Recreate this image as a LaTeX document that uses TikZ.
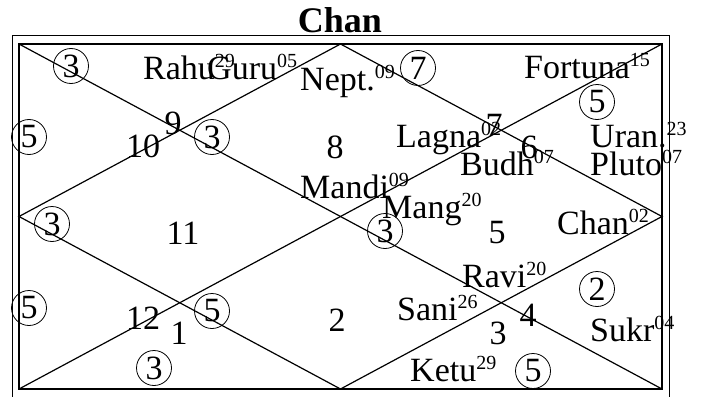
\documentclass[tikz,border=0pt]{standalone}
\usepackage{fontspec}
\setmainfont{Liberation Serif}
\newcommand\bigf{\fontsize{34}{38}\selectfont}
\newcommand\sps[1]{\raisebox{12pt}{\fontsize{20}{20}\selectfont #1}}
\tikzset{
  chartline/.style={line width=1.2pt},
  frameline/.style={line width=1pt},
  planet/.style={anchor=base west, inner sep=0pt, font=\bigf},
  housenum/.style={anchor=base, inner sep=0pt, font=\bigf},
  ring/.style={circle, draw, line width=0.8pt, minimum size=35pt, inner sep=0pt, font=\bigf}
}
\begin{document}
\begin{tikzpicture}[x=1pt,y=-1pt]
\useasboundingbox (0,0) rectangle (701,396);
% title
\node[anchor=base, inner sep=0pt, font=\fontsize{36}{40}\selectfont\bfseries] (title) at (340,33) {Chan};
% outer frame
\coordinate (o1) at (12,397);
\coordinate (o2) at (12,36);
\coordinate (o3) at (669,36);
\coordinate (o4) at (669,397);
\draw[frameline] (o1) -- (o2) -- (o3) -- (o4);
% inner chart
\coordinate (tl) at (19,44);
\coordinate (tr) at (662,44);
\coordinate (br) at (662,389);
\coordinate (bl) at (19,389);
\coordinate (tm) at (340.5,44);
\coordinate (rm) at (662,216.5);
\coordinate (bm) at (340.5,389);
\coordinate (lm) at (19,216.5);
\draw[chartline] (tl) -- (tr) -- (br) -- (bl) -- cycle;
\draw[chartline] (tl) -- (br);
\draw[chartline] (bl) -- (tr);
\draw[chartline] (tm) -- (rm) -- (bm) -- (lm) -- cycle;
% house numbers
\node[housenum] (h10) at (143,157) {10};
\node[housenum] (h9) at (173,134) {9};
\node[housenum] (h8) at (335,158) {8};
\node[housenum] (h7) at (494,136) {7};
\node[housenum] (h6) at (529,158) {6};
\node[housenum] (h11) at (183,244) {11};
\node[housenum] (h12) at (143,329) {12};
\node[housenum] (h1) at (179,344) {1};
\node[housenum] (h2) at (337,331) {2};
\node[housenum] (h5) at (497,243) {5};
\node[housenum] (h4) at (528,326) {4};
\node[housenum] (h3) at (498,344) {3};
% planets
\node[planet] (rahu) at (143,79) {Rahu\sps{29}};
\node[planet] (guru) at (207,79) {Guru\sps{05}};
\node[planet] (nept) at (300,90) {Nept.\sps{09}};
\node[planet] (fortuna) at (524,78) {Fortuna\sps{15}};
\node[planet] (lagna) at (396,147) {Lagna\sps{02}};
\node[planet] (budh) at (460,175) {Budh\sps{07}};
\node[planet] (uran) at (590,147) {Uran.\sps{23}};
\node[planet] (pluto) at (590,175) {Pluto\sps{07}};
\node[planet] (mandi) at (300,198) {Mandi\sps{09}};
\node[planet] (mang) at (382,218) {Mang\sps{20}};
\node[planet] (chan) at (557,234) {Chan\sps{02}};
\node[planet] (ravi) at (462,287) {Ravi\sps{20}};
\node[planet] (sani) at (397,320) {Sani\sps{26}};
\node[planet] (sukr) at (590,341) {Sukr\sps{04}};
\node[planet] (ketu) at (410,381) {Ketu\sps{29}};
% circled numbers
\node[ring] (c1) at (71,66) {3};
\node[ring] (c2) at (29,137) {5};
\node[ring] (c3) at (212,137) {3};
\node[ring] (c4) at (418,68) {7};
\node[ring] (c5) at (597,102) {5};
\node[ring] (c6) at (52,224) {3};
\node[ring] (c7) at (29,308) {5};
\node[ring] (c8) at (212,311) {5};
\node[ring] (c9) at (154,368) {3};
\node[ring] (c10) at (385,231) {3};
\node[ring] (c11) at (597,289) {2};
\node[ring] (c12) at (533,371) {5};
\end{tikzpicture}
\end{document}
